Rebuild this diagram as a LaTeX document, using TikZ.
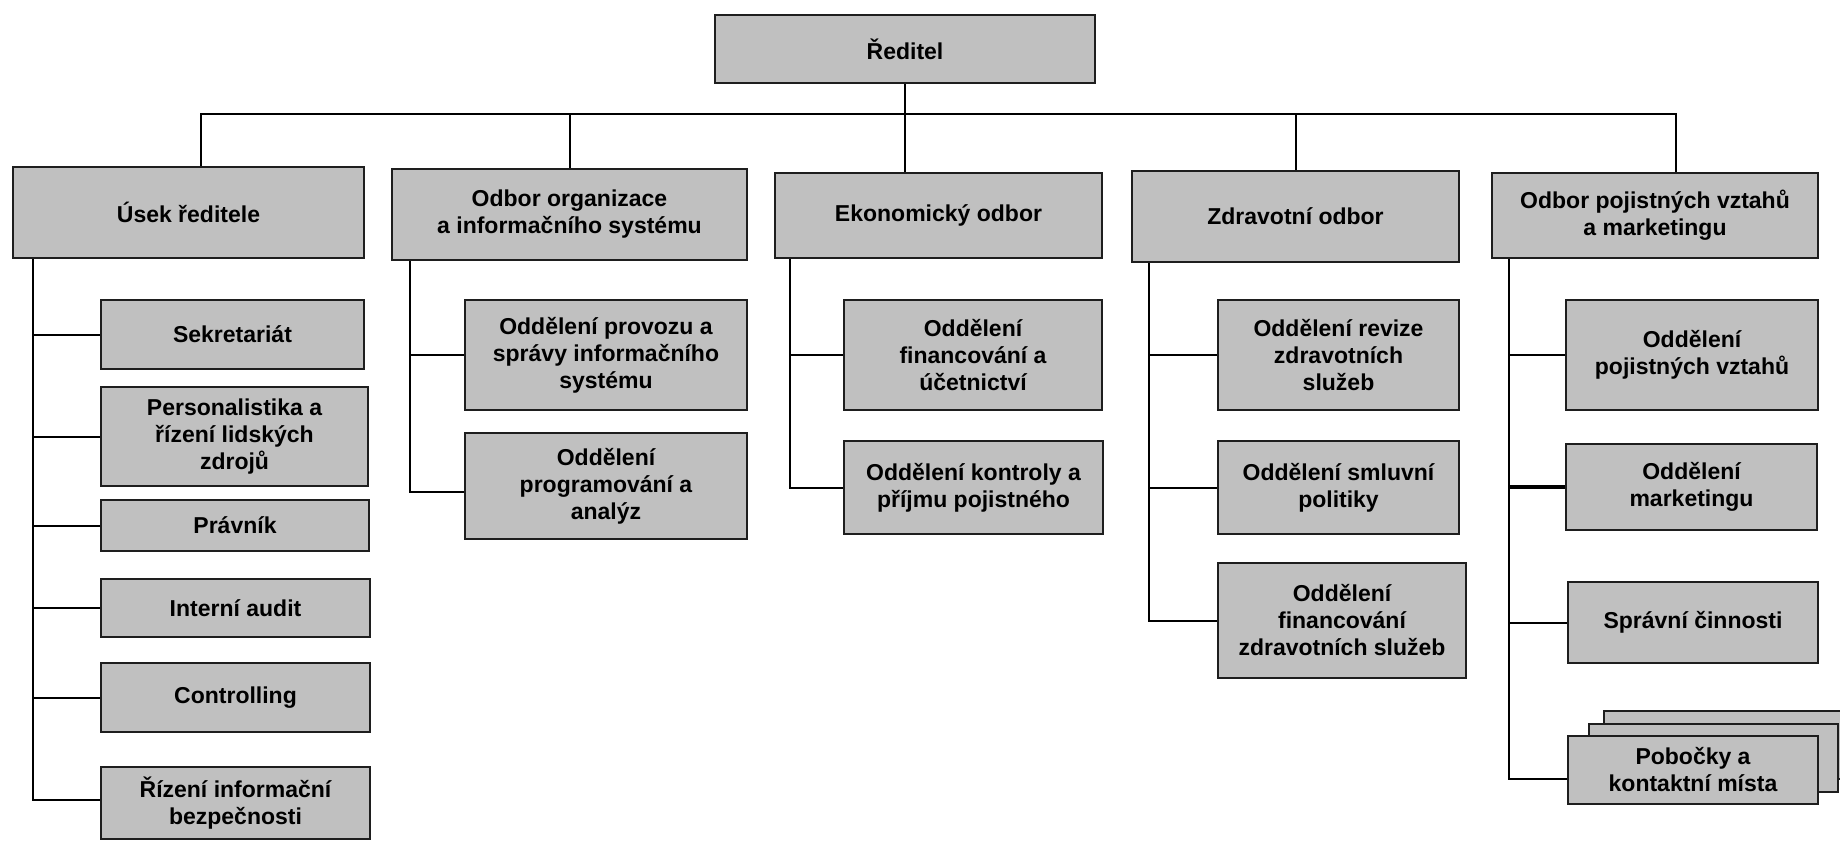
\documentclass[tikz,border=0pt]{standalone}
\usepackage{fontspec}
\setmainfont{Liberation Sans}
\usetikzlibrary{calc}

\definecolor{boxgray}{RGB}{192,192,192}
\definecolor{edgegray}{RGB}{30,30,30}

\tikzset{
    box/.style={draw=edgegray, fill=boxgray, line width=1.1pt, align=center,
        inner sep=0pt, font=\fontsize{11.5}{13.5}\selectfont\bfseries},
    sz/.style 2 args={minimum width=#1*0.5pt, minimum height=#2*0.5pt},
    link/.style={draw=black, line width=1pt},
}

\begin{document}
\begin{tikzpicture}[x=0.5pt, y=-0.5pt]
    \useasboundingbox (0,0) rectangle (1840,841);
    % Director
    \node[box, sz={380}{68}] (red) at (905,49) {Ředitel};
    % Departments
    \node[box, sz={351}{91}] (usek) at (188.5,212.5) {Úsek ředitele};
    \node[box, sz={355}{91}] (org) at (569.5,214.5) {Odbor organizace\\a informačního systému};
    \node[box, sz={327}{85}] (eko) at (938.5,215.5) {Ekonomický odbor};
    \node[box, sz={327}{91}] (zdr) at (1295.5,216.5) {Zdravotní odbor};
    \node[box, sz={326}{85}] (poj) at (1655,215.5) {Odbor pojistných vztahů\\a marketingu};
    % Units under the director's office
    \node[box, sz={263}{69}] (sekr) at (232.5,334.5) {Sekretariát};
    \node[box, sz={267}{99}] (pers) at (234.5,436.5) {Personalistika a\\řízení lidských\\zdrojů};
    \node[box, sz={268}{51}] (prav) at (235,525.5) {Právník};
    \node[box, sz={269}{58}] (audit) at (235.5,608) {Interní audit};
    \node[box, sz={269}{69}] (ctrl) at (235.5,697.5) {Controlling};
    \node[box, sz={269}{72}] (bezp) at (235.5,803) {Řízení informační\\bezpečnosti};
    % Organisation and IS
    \node[box, sz={282}{110}] (provoz) at (606,355) {Oddělení provozu a\\správy informačního\\systému};
    \node[box, sz={282}{106}] (progr) at (606,486) {Oddělení\\programování a\\analýz};
    % Economics
    \node[box, sz={258}{110}] (fin) at (973,355) {Oddělení\\financování a\\účetnictví};
    \node[box, sz={259}{93}] (kontr) at (973.5,487.5) {Oddělení kontroly a\\příjmu pojistného};
    % Health
    \node[box, sz={241}{110}] (rev) at (1338.5,355) {Oddělení revize\\zdravotních\\služeb};
    \node[box, sz={241}{93}] (smlv) at (1338.5,487.5) {Oddělení smluvní\\politiky};
    \node[box, sz={248}{115}] (finz) at (1342,620.5) {Oddělení\\financování\\zdravotních služeb};
    % Insurance and marketing
    \node[box, sz={252}{110}] (pvz) at (1692,355) {Oddělení\\pojistných vztahů};
    \node[box, sz={251}{86}] (mkt) at (1691.5,487) {Oddělení\\marketingu};
    \node[box, sz={250}{81}] (sprav) at (1693,622.5) {Správní činnosti};
    \node[box, sz={250}{68}] (pob3) at (1729,745) {};
    \node[box, sz={249}{68}] (pob2) at (1713.5,758) {};
    \node[box, sz={250}{68}] (pob) at (1693,770) {Pobočky a\\kontaktní místa};

    % Lines from the director
    \coordinate (bus) at (0,114);
    \coordinate (dUsek) at ($(usek.north)+(12.5,0)$);
    \coordinate (dPoj) at ($(poj.north)+(21,0)$);
    \draw[link] (red.south) -- (red.south |- eko.north);
    \draw[link] (dUsek) -- (dUsek |- bus) -- (dPoj |- bus) -- (dPoj);
    \draw[link] (org.north) -- (org.north |- bus);
    \draw[link] (zdr.north) -- (zdr.north |- bus);

    % Lines inside the departments
    \coordinate (sUsek) at ($(usek.south west)+(21,0)$);
    \draw[link] (sUsek) |- ($(bezp.west)+(0,-3)$);
    \foreach \n in {sekr,pers,prav,audit,ctrl}
        \draw[link] (sUsek |- \n.west) -- (\n.west);

    \coordinate (sOrg) at ($(org.south west)+(19,0)$);
    \draw[link] (sOrg) |- ($(progr.west)+(0,6)$);
    \draw[link] (sOrg |- provoz.west) -- (provoz.west);

    \coordinate (sEko) at ($(eko.south west)+(16,0)$);
    \draw[link] (sEko) |- (kontr.west);
    \draw[link] (sEko |- fin.west) -- (fin.west);

    \coordinate (sZdr) at ($(zdr.south west)+(18,0)$);
    \draw[link] (sZdr) |- (finz.west);
    \foreach \n in {rev,smlv}
        \draw[link] (sZdr |- \n.west) -- (\n.west);

    \coordinate (sPoj) at ($(poj.south west)+(18,0)$);
    \draw[link] (sPoj) |- ($(pob.west)+(0,9)$);
    \draw[link] (sPoj |- pvz.west) -- (pvz.west);
    \draw[link, line width=1.8pt] (sPoj |- mkt.west) -- (mkt.west);
    \draw[link] (sPoj |- sprav.west) -- (sprav.west);
\end{tikzpicture}
\end{document}
